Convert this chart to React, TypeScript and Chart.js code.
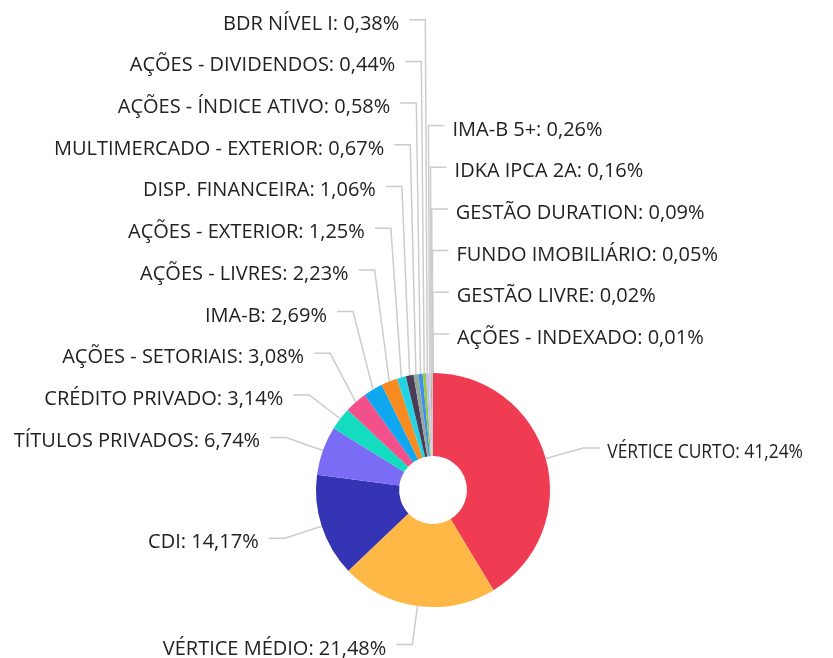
import React, { useEffect, useRef } from 'react';
import { Chart, registerables } from 'chart.js';

Chart.register(...registerables);

const categories = [
  'VÉRTICE CURTO',
  'VÉRTICE MÉDIO',
  'CDI',
  'TÍTULOS PRIVADOS',
  'CRÉDITO PRIVADO',
  'AÇÕES - SETORIAIS',
  'IMA-B',
  'AÇÕES - LIVRES',
  'AÇÕES - EXTERIOR',
  'DISP. FINANCEIRA',
  'MULTIMERCADO - EXTERIOR',
  'AÇÕES - ÍNDICE ATIVO',
  'AÇÕES - DIVIDENDOS',
  'BDR NÍVEL I',
  'IMA-B 5+',
  'IDKA IPCA 2A',
  'GESTÃO DURATION',
  'FUNDO IMOBILIÁRIO',
  'GESTÃO LIVRE',
  'AÇÕES - INDEXADO',
];

const shares = [
  41.24, 21.48, 14.17, 6.74, 3.14, 3.08, 2.69, 2.23, 1.25, 1.06,
  0.67, 0.58, 0.44, 0.38, 0.26, 0.16, 0.09, 0.05, 0.02, 0.01,
];

const sliceColors = [
  '#f03c52', '#ffb845', '#3434b4', '#7b6cf6', '#14dcc0',
  '#f2508a', '#0fa8f0', '#f88b20', '#24d2e2', '#4a3c56',
  '#8fa89a', '#3d8ef2', '#98cc36', '#c4bcf4', '#cfcfcf',
  '#a8a8a8', '#dcdcdc', '#909090', '#bcbcbc', '#707070',
];

const FONT = '20px "Open Sans"';
const TEXT_COLOR = '#222222';
const LINE_COLOR = '#cccccc';
const LEN = 39;
const LEN2 = 16;
const GAP_LEFT = 10;
const GAP_RIGHT = 8;
const SPACING = 41.7;
const TOP_LIMIT = 10;
const RIGHT_MARGIN = 30;

const fmt = (v: number) => v.toFixed(2).replace('.', ',') + '%';

const outsideLabels = {
  id: 'outsideLabels',
  afterDatasetsDraw(chart: any) {
    const ctx = chart.ctx as CanvasRenderingContext2D;
    const meta = chart.getDatasetMeta(0);
    const items = meta.data.map((arc: any, i: number) => {
      const p = arc.getProps(['x', 'y', 'startAngle', 'endAngle', 'outerRadius'], true);
      const mid = (p.startAngle + p.endAngle) / 2;
      const c = Math.cos(mid);
      const s = Math.sin(mid);
      return {
        i,
        ex: p.x + p.outerRadius * c,
        ey: p.y + p.outerRadius * s,
        nx: p.x + (p.outerRadius + LEN) * c,
        ny: p.y + (p.outerRadius + LEN) * s,
        right: c >= 0,
        y: 0,
        side: 'left',
      };
    });

    const stack = (list: any[], side: string) => {
      let prev = Infinity;
      const overflow: any[] = [];
      for (const it of list) {
        if (overflow.length) {
          overflow.push(it);
          continue;
        }
        const y = Math.min(it.ny, prev - SPACING);
        if (y < TOP_LIMIT) {
          overflow.push(it);
          continue;
        }
        it.y = y;
        it.side = side;
        prev = y;
      }
      return overflow;
    };

    const left = items.filter((it: any) => !it.right).sort((a: any, b: any) => a.i - b.i);
    const overflow = stack(left, 'left');
    const rightNat = items.filter((it: any) => it.right).sort((a: any, b: any) => b.ny - a.ny);
    const moved = overflow.slice().sort((a: any, b: any) => b.i - a.i);
    stack([...rightNat, ...moved], 'right');

    ctx.save();
    ctx.strokeStyle = LINE_COLOR;
    ctx.lineWidth = 1.5;
    for (const it of items) {
      const dir = it.side === 'right' ? 1 : -1;
      ctx.beginPath();
      ctx.moveTo(it.ex, it.ey);
      ctx.lineTo(it.nx, it.y);
      ctx.lineTo(it.nx + dir * LEN2, it.y);
      ctx.stroke();
    }
    ctx.font = FONT;
    ctx.fillStyle = TEXT_COLOR;
    ctx.textBaseline = 'alphabetic';
    for (const it of items) {
      const dir = it.side === 'right' ? 1 : -1;
      const tx = it.nx + dir * (LEN2 + (dir > 0 ? GAP_RIGHT : GAP_LEFT));
      const maxW = dir > 0 ? chart.width - tx - RIGHT_MARGIN : tx - 8;
      ctx.textAlign = dir > 0 ? 'left' : 'right';
      ctx.fillText(categories[it.i] + ': ' + fmt(shares[it.i]), tx, it.y + 10, maxW);
    }
    ctx.restore();
  },
};

export default function App() {
  const ref = useRef<HTMLCanvasElement | null>(null);
  useEffect(() => {
    if (!ref.current) return;
    const chart = new Chart(ref.current, {
      type: 'doughnut',
      data: {
        labels: categories,
        datasets: [
          {
            data: shares,
            backgroundColor: sliceColors,
            borderWidth: 0,
            hoverOffset: 0,
          },
        ],
      },
      options: {
        responsive: false,
        animation: false,
        cutout: '29%',
        layout: { padding: { left: 316, right: 283, top: 373, bottom: 51 } },
        plugins: {
          legend: { display: false },
          tooltip: { enabled: false },
        },
      },
      plugins: [outsideLabels],
    });
    return () => chart.destroy();
  }, []);
  return (
    <div style={{ position: 'fixed', left: 0, top: 0, width: 833, height: 658, background: '#fff' }}>
      <canvas ref={ref} width={833} height={658} />
    </div>
  );
}
